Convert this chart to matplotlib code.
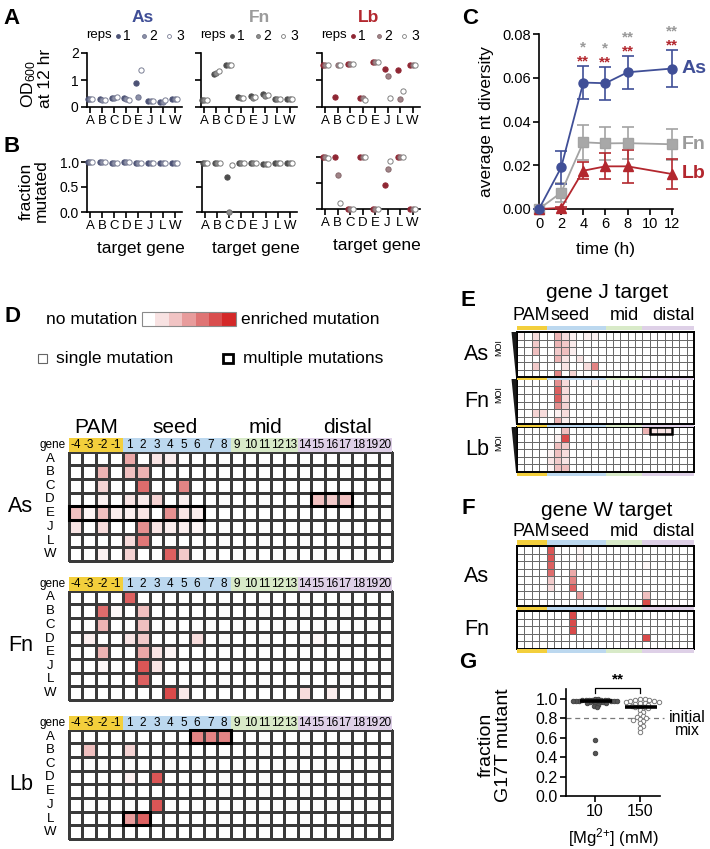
import numpy as np
import matplotlib
matplotlib.use("Agg")
import matplotlib.pyplot as plt
from matplotlib.patches import Rectangle, Polygon
from matplotlib.colors import LinearSegmentedColormap

plt.rcParams["font.family"] = ["Liberation Sans", "DejaVu Sans"]
plt.rcParams["mathtext.default"] = "regular"

W, H = 710, 849

# ---------------- data ----------------
genes = ["A", "B", "C", "D", "E", "J", "L", "W"]
positions = ["-4", "-3", "-2", "-1"] + [str(i) for i in range(1, 21)]
regions = ["PAM", "seed", "mid", "distal"]
region_sizes = [4, 8, 5, 7]
enzymes = ["As", "Fn", "Lb"]

# A: OD600 at 12 hr, (rep1, rep2, rep3) per target gene
od_as = [(0.30, 0.31, 0.30), (0.28, 0.27, 0.26), (0.32, 0.35, 0.36), (0.32, 0.30, 0.26),
         (0.90, 0.37, 1.38), (0.21, 0.22, 0.22), (0.18, 0.20, 0.25), (0.30, 0.30, 0.29)]
od_fn = [(0.27, 0.27, 0.27), (1.22, 1.27, 1.32), (1.55, 1.55, 1.55), (0.38, 0.35, 0.33),
         (0.40, 0.33, 0.37), (0.50, 0.40, 0.45), (0.30, 0.28, 0.28), (0.30, 0.31, 0.31)]
od_lb = [(1.55, 1.55, 1.55), (0.38, 1.55, 1.55), (1.58, 1.58, 1.58), (0.33, 0.33, 0.25),
         (1.65, 1.65, 1.65), (1.42, 1.15, 0.33), (1.37, 0.28, 0.60), (1.55, 1.55, 1.55)]

# B: fraction mutated
frac_as = [(1.0, 1.0, 1.0), (1.0, 1.0, 1.0), (0.99, 0.99, 0.99), (1.0, 1.0, 1.0),
           (0.99, 0.99, 0.99), (0.98, 0.98, 0.98), (0.99, 0.99, 0.99), (0.99, 0.99, 0.99)]
frac_fn = [(0.99, 0.99, 0.99), (0.98, 0.98, 0.98), (0.70, 0.01, 0.95), (0.98, 0.98, 0.98),
           (0.98, 0.98, 0.98), (0.96, 0.97, 0.97), (0.98, 0.98, 0.98), (0.98, 0.98, 0.98)]
frac_lb = [(1.0, 1.0, 0.99), (1.0, 0.65, 0.11), (0.0, 0.0, 0.0), (1.0, 1.0, 1.0),
           (0.0, 0.0, 0.0), (0.46, 0.76, 0.92), (1.0, 1.0, 1.0), (0.0, 0.0, 0.0)]

# C: average nt diversity over time
times = [0, 2, 4, 6, 8, 12]
div_as = [0.0, 0.019, 0.0578, 0.0575, 0.0625, 0.0642]
err_as = [0.0, 0.0075, 0.0075, 0.0075, 0.0075, 0.0083]
div_fn = [0.0, 0.0075, 0.0305, 0.0300, 0.0301, 0.0296]
err_fn = [0.0, 0.0045, 0.0080, 0.0075, 0.0073, 0.0072]
div_lb = [0.0, 0.0005, 0.0175, 0.0195, 0.0195, 0.0160]
err_lb = [0.0, 0.0005, 0.0040, 0.0060, 0.0075, 0.0070]
star_times = [4, 6, 8, 12]
stars_fn = ["*", "*", "**", "**"]
stars_lb = ["**", "**", "**", "**"]

# D: mutation heatmaps, gene -> [(position, intensity)]
d_as = {
    "A": [("1", .45), ("3", .15), ("4", .10)],
    "B": [("-2", .40), ("1", .35), ("2", .40)],
    "C": [("-2", .25), ("2", .70), ("5", .60)],
    "D": [("-2", .08), ("1", .15), ("2", .12), ("3", .25), ("5", .10), ("15", .35), ("16", .30), ("17", .35)],
    "E": [("-4", .35), ("-3", .06), ("-2", .35), ("-1", .10), ("1", .08), ("2", .15), ("4", .55), ("5", .15), ("6", .10)],
    "J": [("-4", .15), ("-2", .20), ("2", .55), ("3", .15), ("4", .10), ("5", .10), ("6", .06)],
    "L": [("1", .20), ("2", .65)],
    "W": [("-2", .08), ("1", .25), ("4", .75), ("5", .30)],
}
d_fn = {
    "A": [("1", .75)],
    "B": [("-2", .70), ("-1", .04), ("2", .35)],
    "C": [("-2", .40), ("2", .35)],
    "D": [("-3", .10), ("1", .15), ("2", .30), ("6", .20), ("15", .05)],
    "E": [("-2", .40), ("2", .45), ("3", .15), ("4", .06)],
    "J": [("-2", .05), ("2", .80), ("3", .15)],
    "L": [("2", .75)],
    "W": [("4", .85), ("5", .12), ("14", .20), ("16", .10)],
}
d_lb = {
    "A": [("6", .60), ("7", .60), ("8", .60)],
    "B": [("-3", .35), ("1", .25)],
    "D": [("1", .08), ("3", .80)],
    "J": [("3", .80)],
    "L": [("1", .50), ("2", .75)],
}
# multiple-mutation boxes: (gene, first position, width)
d_boxes_as = [("D", "15", 3), ("E", "-4", 10)]
d_boxes_fn = []
d_boxes_lb = [("A", "6", 3), ("L", "1", 2)]

# E: gene J target, rows ordered by MOI
e_as = [[("-4", .06), ("-2", .20), ("2", .40), ("3", .20), ("4", .08), ("6", .08), ("7", .08)],
        [("-2", .30), ("2", .40), ("3", .30), ("4", .12)],
        [("-2", .35), ("2", .30), ("3", .35), ("4", .10)],
        [("2", .40), ("3", .15), ("5", .15)],
        [("-2", .30), ("3", .15), ("6", .20), ("7", .60)],
        [("2", .60), ("4", .25)]]
e_fn = [[("2", .55), ("3", .20), ("7", .06)],
        [("2", .75), ("3", .20)],
        [("2", .75), ("3", .20)],
        [("2", .55), ("3", .25)],
        [("-2", .25), ("-1", .20), ("2", .08), ("3", .20)],
        [("2", .40), ("3", .10)]]
e_lb = [[("3", .35), ("14", .40), ("15", .15), ("16", .15), ("17", .15)],
        [("2", .10), ("3", .85)],
        [("2", .35), ("3", .30)],
        [("1", .08), ("2", .35), ("3", .20)],
        [("1", .15), ("2", .30), ("3", .15)],
        [("1", .06), ("2", .35), ("3", .35)]]
e_boxes_lb = [(0, "15", 3)]

# F: gene W target
f_as = [[("1", .80), ("5", .06)],
        [("1", .80), ("5", .06)],
        [("1", .75), ("14", .05)],
        [("1", .70), ("4", .45)],
        [("1", .30), ("4", .60)],
        [("1", .20), ("4", .75)],
        [("5", .50), ("14", .35)],
        [("14", .85)]]
f_fn = [[("4", .85)], [("4", .85)], [("4", .85)], [("14", .85)], []]

# G: fraction G17T mutant
mg_labels = ["10", "150"]
mg10 = [1.00, 1.00, 0.99, 0.99, 0.99, 0.99, 0.99, 0.99, 0.99, 0.98, 0.98, 0.98, 0.98, 0.98,
        0.98, 0.98, 0.97, 0.97, 0.97, 0.97, 0.96, 0.96, 0.95, 0.94, 0.93, 0.92, 0.58, 0.44]
mg150 = [1.00, 1.00, 0.99, 0.99, 0.98, 0.98, 0.97, 0.97, 0.96, 0.96, 0.95, 0.94, 0.93, 0.92,
         0.92, 0.91, 0.90, 0.88, 0.86, 0.84, 0.82, 0.81, 0.80, 0.79, 0.78, 0.77, 0.75, 0.72,
         0.70, 0.66]
initial_mix = 0.8

# ---------------- style ----------------
AS_C, FN_C, LB_C = "#404f97", "#9b9b9b", "#b3272e"
enz_colors = [AS_C, FN_C, LB_C]
rep_face = [["#4c5275", "#8c90a8", "white"], ["#4d4d4d", "#8d8d8d", "white"], ["#8f2633", "#a08488", "white"]]
rep_edge = [["#4c5275", "#70758f", "#7a7e94"], ["#4d4d4d", "#6f6f6f", "#7a7a7a"], ["#8f2633", "#86686c", "#808080"]]
rep_offsets = [-0.2, 0.0, 0.2]
region_colors = ["#f3cf3c", "#bcd8ef", "#d8eac8", "#ded0e7"]
cmap = LinearSegmentedColormap.from_list("mut", ["#ffffff", "#f1c4c4", "#df7474", "#d42828"])


def px_axes(fig, x0, y0, x1, y1):
    return fig.add_axes([x0 / W, 1 - y1 / H, (x1 - x0) / W, (y1 - y0) / H])


def prism(ax, lw=1.2):
    for s in ["top", "right"]:
        ax.spines[s].set_visible(False)
    for s in ["left", "bottom"]:
        ax.spines[s].set_linewidth(lw)
    ax.tick_params(direction="out", length=4, width=lw, pad=2)
    ax.patch.set_alpha(0)


def to_matrix(rows, nrows):
    m = np.zeros((nrows, len(positions)))
    for r, cells in enumerate(rows):
        for p, v in cells:
            m[r, positions.index(p)] = v
    return m


fig = plt.figure(figsize=(W / 100, H / 100), dpi=100)
fig.patch.set_facecolor("white")
ov = fig.add_axes([0, 0, 1, 1])
ov.set_xlim(0, W)
ov.set_ylim(H, 0)
ov.axis("off")


def t(x, y, s, **kw):
    kw.setdefault("ha", "center")
    kw.setdefault("va", "center")
    ov.text(x, y, s, **kw)


# panel letters
for letter, (x, y) in zip("ABCDEFG", [(12, 18), (12, 146), (470, 18), (12, 317),
                                      (468, 300), (468, 508), (468, 662)]):
    t(x, y, letter, fontsize=16, fontweight="bold")

# ---------------- A & B ----------------
a_boxes = [(87, 53, 182, 107), (201, 53, 297, 107), (322, 53, 420, 107)]
b_boxes = [(87, 162, 182, 212), (202, 162, 297, 212), (322, 157, 420, 209)]
title_x = [143, 259, 369]
gene_x = np.arange(len(genes))
for i, (od, fr) in enumerate(zip([od_as, od_fn, od_lb], [frac_as, frac_fn, frac_lb])):
    for box, vals, ylim, yt, ylab in [(a_boxes[i], od, 2, [0, 1, 2], ["0", "1", "2"]),
                                      (b_boxes[i], fr, 1, [0, 0.5, 1], ["0.0", "0.5", "1.0"])]:
        ax = px_axes(fig, *box)
        prism(ax)
        for r in range(3):
            ax.plot(gene_x + rep_offsets[r], [v[r] for v in vals], "o", ms=3.8,
                    mfc=rep_face[i][r], mec=rep_edge[i][r], mew=0.7, ls="none",
                    clip_on=False, zorder=3)
        ax.set_xlim(-0.25, 7.6)
        ax.set_ylim(0, ylim)
        ax.set_xticks(gene_x)
        ax.set_xticklabels(genes, fontsize=9.5)
        ax.set_yticks(yt)
        ax.set_yticklabels(ylab if i == 0 else [], fontsize=10)
    # title and reps legend
    t(title_x[i], 17, enzymes[i], color=enz_colors[i], fontsize=12.5, fontweight="bold")
    bx = a_boxes[i][0]
    t(bx - 1, 35, "reps", ha="left", fontsize=9.5)
    for r, (mo, no) in enumerate([(31, 40), (57, 66), (82, 93)]):
        ov.plot(bx + mo, 35.5, "o", ms=2.8, mfc=rep_face[i][r], mec=rep_edge[i][r], mew=0.6)
        t(bx + no, 36, str(r + 1), fontsize=10)
    bb = b_boxes[i]
    t((bb[0] + bb[2]) / 2 + 6, bb[3] + 36, "target gene", fontsize=12.5)

t(36, 78, r"OD$_{600}$" + "\nat 12 hr", rotation=90, fontsize=12.5, multialignment="left",
  linespacing=1.0)
t(34, 191, "fraction\nmutated", rotation=90, fontsize=12.5, linespacing=1.0)

# ---------------- C ----------------
axc = px_axes(fig, 539, 34, 673, 209)
prism(axc)
for y, e, col, mk, mfc in [(div_fn, err_fn, "#a3a3a3", "s", "#a8a8a8"),
                           (div_lb, err_lb, LB_C, "^", LB_C),
                           (div_as, err_as, AS_C, "o", AS_C)]:
    axc.errorbar(times, y, yerr=e, color=col, marker=mk, ms=6.5, mfc=mfc, mec=col,
                 lw=1.3, elinewidth=1.2, capsize=4, capthick=1.2, clip_on=False, zorder=3)
for tt, sf, sl in zip(star_times, stars_fn, stars_lb):
    k = times.index(tt)
    y0 = div_as[k] + err_as[k] + 0.0054
    # grey stars sit on top of the red ones, boxes just touching
    axc.text(tt, y0, sf, color="#999999", fontsize=11, fontweight="bold",
             ha="center", va="bottom")
    axc.text(tt, y0, sl, color=LB_C, fontsize=11, fontweight="bold",
             ha="center", va="top")
for name, y, col in [("As", div_as, AS_C), ("Fn", div_fn, FN_C), ("Lb", div_lb, LB_C)]:
    axc.text(12.85, y[-1], name, color=col, fontsize=14, fontweight="bold",
             ha="left", va="center", clip_on=False)
axc.set_xlim(0, 12.1)
axc.set_ylim(0, 0.08)
axc.set_xticks([0, 2, 4, 6, 8, 10, 12])
axc.set_yticks([0, 0.02, 0.04, 0.06, 0.08])
axc.set_yticklabels(["0.00", "0.02", "0.04", "0.06", "0.08"])
axc.tick_params(labelsize=10.5)
axc.set_xlabel("time (h)", fontsize=12.5, labelpad=8)
axc.set_ylabel("average nt diversity", fontsize=12.5, labelpad=6)

# ---------------- D ----------------
t(92, 319, "no mutation", fontsize=12.5)
steps = cmap(np.linspace(0, 1, 7))
for k, c in enumerate(steps):
    ov.add_patch(Rectangle((142 + k * 13.4, 312), 13.4, 14, fc=c, ec="none"))
ov.add_patch(Rectangle((142, 312), 93.8, 14, fill=False, ec="#8a8a8a", lw=0.8))
t(241, 319, "enriched mutation", ha="left", fontsize=12.5)
ov.add_patch(Rectangle((38, 354), 8.5, 8.5, fill=False, ec="#666666", lw=0.8))
t(56, 358.5, "single mutation", ha="left", fontsize=12.5)
ov.add_patch(Rectangle((223, 353.5), 9.5, 9.5, fill=False, ec="black", lw=2.0))
t(243, 358.5, "multiple mutations", ha="left", fontsize=12.5)

for name, x in zip(regions, [96, 175, 265, 347]):
    t(x, 427, name, fontsize=15)

for name, top, data, boxes in [("As", 438, d_as, d_boxes_as), ("Fn", 577, d_fn, d_boxes_fn),
                               ("Lb", 716, d_lb, d_boxes_lb)]:
    ax = px_axes(fig, 69, top, 392, top + 123)
    mat = to_matrix([data.get(g, []) for g in genes], len(genes))
    mesh = ax.pcolormesh(np.arange(25), np.arange(9), mat, cmap=cmap, vmin=0, vmax=1,
                         edgecolors="#3a3a3a", linewidth=0.8)
    mesh.set_clip_on(False)
    ax.set_xlim(0, 24)
    ax.set_ylim(8, -1)
    ax.axis("off")
    start = 0
    for size, col in zip(region_sizes, region_colors):
        ax.add_patch(Rectangle((start, -1), size, 1, fc=col, ec="none"))
        start += size
    for j, p in enumerate(positions):
        ax.text(j + 0.5, -0.47, p, ha="center", va="center", fontsize=8.5)
    ax.text(-0.25, -0.47, "gene", ha="right", va="center", fontsize=8.5)
    for r, g in enumerate(genes):
        ax.text(-1.4, r + 0.5, g, ha="center", va="center", fontsize=9.5)
    for g, p, n in boxes:
        ax.add_patch(Rectangle((positions.index(p), genes.index(g)), n, 1, fill=False,
                               ec="black", lw=2.2, zorder=5, clip_on=False))
    t(21, top + 14 + 54.5, name, fontsize=15.5)


# ---------------- E & F ----------------
def strip(y, h):
    x = 517.0
    for size, col in zip(region_sizes, region_colors):
        w = size * 177 / 24
        ov.add_patch(Rectangle((x, y), w, h, fc=col, ec="none"))
        x += w


def block(top, rows, boxes=()):
    n = len(rows)
    ax = px_axes(fig, 517, top, 694, top + 7.5 * n)
    mat = to_matrix(rows, n)
    ax.pcolormesh(np.arange(25), np.arange(n + 1), mat, cmap=cmap, vmin=0, vmax=1,
                  edgecolors="#6a6a6a", linewidth=0.5)
    ax.set_xlim(0, 24)
    ax.set_ylim(n, 0)
    ax.set_xticks([])
    ax.set_yticks([])
    for s in ax.spines.values():
        s.set_linewidth(1.4)
    for r, p, w in boxes:
        ax.add_patch(Rectangle((positions.index(p), r), w, 1, fill=False, ec="black",
                               lw=1.8, zorder=5, clip_on=False))
    return top + 7.5 * n


for title, ty, sy in [("gene J target", 293, 315), ("gene W target", 511, 531)]:
    t(607, ty, title, fontsize=15)
    for name, x in zip(regions, [531, 570, 624, 673]):
        t(x, sy, name, fontsize=13)

strip(325.5, 4.5)
for name, top, rows, boxes in [("As", 332, e_as, ()), ("Fn", 379, e_fn, ()),
                               ("Lb", 427, e_lb, e_boxes_lb)]:
    bottom = block(top, rows, boxes)
    strip(bottom + 0.8, 1.8 if name != "Lb" else 3.5)
    t(477, (top + bottom) / 2, name, fontsize=15.5)
    ov.add_patch(Polygon([(511.5, top), (516.5, top), (516, bottom)], closed=True,
                         fc="#1a1a1a", ec="none"))
    t(499, top + 16, "MOI", rotation=90, fontsize=6.5)

strip(539.5, 5)
for name, top, rows, sh in [("As", 546, f_as, 3.5), ("Fn", 611, f_fn, 3.5)]:
    bottom = block(top, rows)
    strip(bottom + 0.8, sh)
    t(477, (top + bottom) / 2, name, fontsize=15.5)

# ---------------- G ----------------
axg = px_axes(fig, 566, 689, 660, 796)
prism(axg)
sx, sy, dpx = 45.0, 97.3, 4.0


def swarm(vals, overlap):
    placed, offs = [], []
    cands = [0.0]
    for s in range(1, 40):
        cands += [s * dpx * 0.4, -s * dpx * 0.4]
    for v in vals:
        y = v * sy
        for c in cands:
            if all((c - px) ** 2 + (y - py) ** 2 >= (dpx * overlap) ** 2 for px, py in placed):
                placed.append((c, y))
                offs.append(c / sx)
                break
    return np.array(offs)


for k, (vals, mfc, mec, ovl) in enumerate([(mg10, "#555555", "#444444", 0.55),
                                           (mg150, "white", "#7a7a7a", 0.85)]):
    axg.plot(k + swarm(vals, ovl), vals, "o", ms=3.2, mfc=mfc, mec=mec, mew=0.7, ls="none",
             clip_on=False, zorder=3)
    med = np.median(vals)
    axg.plot([k - 0.33, k + 0.38], [med, med], color="black", lw=2.6, zorder=4,
             solid_capstyle="butt")
axg.plot([-0.65, 1.55], [initial_mix, initial_mix], ls=(0, (4, 3)), color="#7a7a7a",
         lw=0.9, clip_on=False, zorder=1)
axg.plot([0, 0, 1, 1], [1.06, 1.11, 1.11, 1.06], color="black", lw=0.9, clip_on=False)
axg.text(0.5, 1.13, "**", ha="center", va="bottom", fontsize=11, fontweight="bold")
axg.set_xlim(-0.65, 1.45)
axg.set_ylim(0, 1.1)
axg.set_xticks([0, 1])
axg.set_xticklabels(mg_labels, fontsize=11.5)
axg.set_yticks([0, 0.2, 0.4, 0.6, 0.8, 1.0])
axg.set_yticklabels(["0.0", "0.2", "0.4", "0.6", "0.8", "1.0"], fontsize=11.5)
t(687, 724, "initial\nmix", fontsize=11.5, linespacing=0.85)
t(613, 838, r"[Mg$^{2{+}}$] (mM)", fontsize=12)
t(495, 745, "fraction\nG17T mutant", rotation=90, fontsize=14, linespacing=1.0)

ov.set_zorder(10)
fig.savefig("out.png", dpi=100, facecolor="white")
